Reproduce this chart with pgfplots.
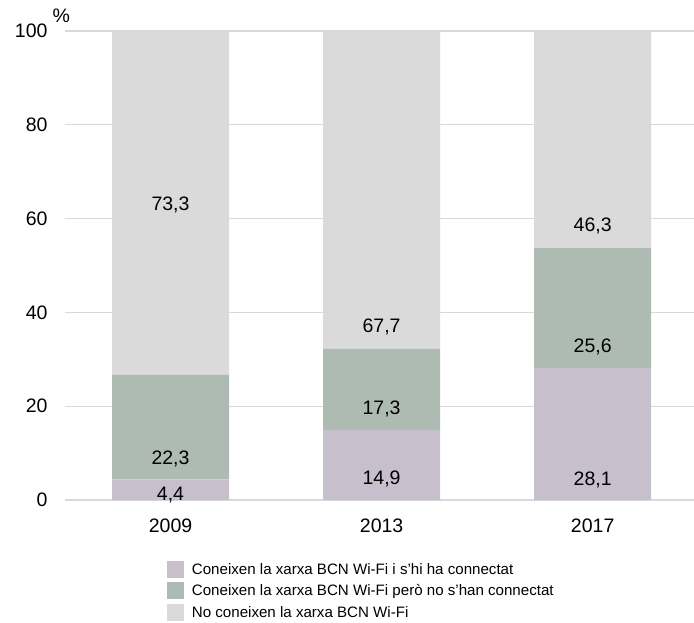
\documentclass[border=0pt]{standalone}
\usepackage{fontspec}
\setmainfont{Liberation Sans}
\usepackage{pgfplots}
\pgfplotsset{compat=1.18}
\definecolor{cA}{HTML}{C7BFCC}
\definecolor{cB}{HTML}{ADBBB3}
\definecolor{cC}{HTML}{DADADA}
\definecolor{gridc}{HTML}{D9D9D9}
\begin{document}
\begin{tikzpicture}
\useasboundingbox (-65pt,-122pt) rectangle (629pt,500pt);
\begin{axis}[
  at={(0pt,0pt)}, anchor=south west,
  scale only axis, width=629pt, height=469pt,
  ybar stacked, bar width=117pt,
  xmin=-0.5, xmax=2.48, ymin=0, ymax=100,
  xtick={0,1,2}, xticklabels={2009,2013,2017},
  ytick={0,20,40,60,80,100},
  axis line style={draw=none},
  major tick length=0pt,
  ymajorgrids, grid style={draw=gridc, line width=1.2pt},
  tick label style={font=\fontsize{19.5}{21}\selectfont},
  /pgf/number format/assume math mode=true,
  yticklabel style={xshift=-14pt},
  xticklabel style={yshift=-15pt},
  legend style={at={(0.157,-0.125)}, anchor=north west, draw=none, fill=none,
    font=\fontsize{15.1}{17}\selectfont, row sep=4.5pt,
    /tikz/every odd column/.append style={column sep=6pt}},
  legend cell align=left,
  legend image code/.code={\fill[#1] (0pt,-8.5pt) rectangle (17pt,8.5pt);},
  clip=false,
]
\addplot[fill=cA, draw=none] coordinates {(0,4.4) (1,14.9) (2,28.1)};
\addplot[fill=cB, draw=none] coordinates {(0,22.3) (1,17.3) (2,25.6)};
\addplot[fill=cC, draw=none] coordinates {(0,73.3) (1,67.7) (2,46.3)};
\legend{Coneixen la xarxa BCN Wi-Fi i s'hi ha connectat,
        Coneixen la xarxa BCN Wi-Fi però no s'han connectat,
        No coneixen la xarxa BCN Wi-Fi}
\coordinate (a1) at (axis cs:0,1.1);
\coordinate (a2) at (axis cs:0,8.7);
\coordinate (a3) at (axis cs:0,62.9);
\coordinate (b1) at (axis cs:1,4.4);
\coordinate (b2) at (axis cs:1,19.4);
\coordinate (b3) at (axis cs:1,36.9);
\coordinate (c1) at (axis cs:2,4.2);
\coordinate (c2) at (axis cs:2,32.6);
\coordinate (c3) at (axis cs:2,58.4);
\coordinate (pc) at (axis description cs:-0.006,1.032);
\end{axis}
\begin{scope}[every node/.style={font=\fontsize{19.5}{21}\selectfont}]
\node at (a1) {4,4};
\node at (a2) {22,3};
\node at (a3) {73,3};
\node at (b1) {14,9};
\node at (b2) {17,3};
\node at (b3) {67,7};
\node at (c1) {28,1};
\node at (c2) {25,6};
\node at (c3) {46,3};
\node at (pc) {\%};
\end{scope}
\end{tikzpicture}
\end{document}
